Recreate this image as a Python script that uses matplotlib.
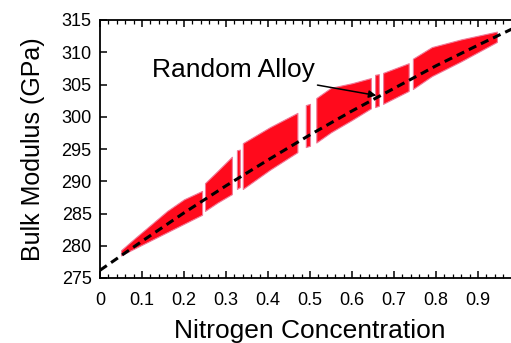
import numpy as np
import matplotlib.pyplot as plt
from matplotlib.ticker import MultipleLocator

plt.rcParams['font.family'] = ['Liberation Sans', 'DejaVu Sans']

# random alloy fit (dashed line)
line_x = [0.0, 0.1, 0.2, 0.3, 0.4, 0.5, 0.6, 0.7, 0.8, 0.9, 1.0]
line_y = [276.2, 280.7, 285.1, 289.3, 293.3, 297.2, 300.9, 304.4, 307.9, 311.1, 314.2]

# red band of sampled configurations, as blocks separated by gaps
band_x = [
    [0.05, 0.08, 0.12, 0.16, 0.20, 0.243],
    [0.25, 0.28, 0.314],
    [0.326, 0.333],
    [0.34, 0.405, 0.47],
    [0.49, 0.50],
    [0.515, 0.55, 0.60, 0.645],
    [0.655, 0.664],
    [0.674, 0.735],
    [0.745, 0.79, 0.86, 0.945],
]
band_lo = [
    [278.5, 279.5, 280.8, 282.1, 283.4, 284.8],
    [285.4, 286.7, 288.0],
    [288.8, 289.1],
    [288.8, 291.8, 294.5],
    [295.3, 295.5],
    [296.0, 297.6, 299.5, 301.3],
    [301.5, 301.7],
    [302.0, 304.0],
    [304.3, 306.3, 308.6, 311.6],
]
band_hi = [
    [279.3, 281.0, 283.2, 285.4, 287.2, 288.5],
    [289.7, 291.6, 293.8],
    [294.8, 294.9],
    [295.9, 298.4, 300.6],
    [301.8, 302.0],
    [302.9, 304.5, 305.2, 306.0],
    [306.5, 306.6],
    [306.8, 308.3],
    [309.0, 310.8, 312.0, 313.2],
]

xticks = [0, 0.1, 0.2, 0.3, 0.4, 0.5, 0.6, 0.7, 0.8, 0.9, 1.0]
xticklabels = ['0', '0.1', '0.2', '0.3', '0.4', '0.5', '0.6', '0.7', '0.8', '0.9', '1']
yticks = [275, 280, 285, 290, 295, 300, 305, 310, 315]

fig = plt.figure(figsize=(5.11, 3.43), dpi=100)
ax = fig.add_axes([100/511, 65/343, 420/511, 258/343])

for bx, lo, hi in zip(band_x, band_lo, band_hi):
    ax.fill_between(bx, lo, hi, facecolor='#ff0a1c', edgecolor='#f07a98',
                    linewidth=0.8, zorder=2)

ax.plot(line_x, line_y, color='black', linewidth=2.2, linestyle=(0, (2.7, 1.7)),
        zorder=3)

ax.annotate('Random Alloy', xy=(0.658, 303.3), xytext=(0.512, 307.2),
            fontsize=19, ha='right', va='center',
            arrowprops=dict(arrowstyle='-|>', color='black', lw=1.1,
                            mutation_scale=11, shrinkA=0, shrinkB=0))

ax.set_xlim(0, 1)
ax.set_ylim(275, 315)
ax.set_xticks(xticks)
ax.set_xticklabels(xticklabels)
ax.set_yticks(yticks)
ax.xaxis.set_minor_locator(MultipleLocator(0.02))
ax.tick_params(axis='both', which='major', direction='in', length=5, width=1.1,
               labelsize=13, top=True, right=True)
ax.tick_params(axis='x', which='minor', direction='in', length=3, width=0.9,
               top=True)
ax.tick_params(axis='x', which='major', pad=10)
ax.tick_params(axis='y', which='major', pad=6)
for s in ax.spines.values():
    s.set_linewidth(1.3)

ax.set_xlabel('Nitrogen Concentration', fontsize=19, labelpad=7)
ax.set_ylabel('Bulk Modulus (GPa)', fontsize=18, labelpad=12)

plt.savefig('out.png', dpi=100)
